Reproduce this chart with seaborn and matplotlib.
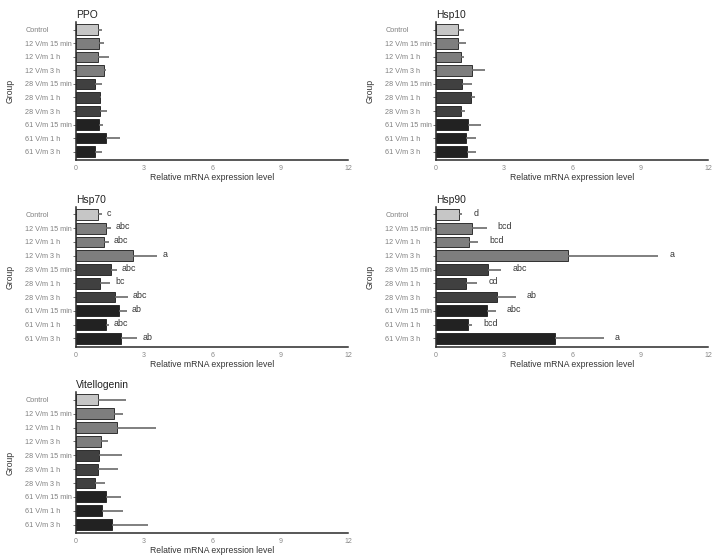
import numpy as np
import pandas as pd
import matplotlib
matplotlib.use("Agg")
import matplotlib.pyplot as plt
import seaborn as sns

# ================= DATA =================
groups = ["Control", "12 V/m 15 min", "12 V/m 1 h", "12 V/m 3 h",
          "28 V/m 15 min", "28 V/m 1 h", "28 V/m 3 h",
          "61 V/m 15 min", "61 V/m 1 h", "61 V/m 3 h"]

ppo_mean = [0.97, 1.00, 0.98, 1.22, 0.82, 1.04, 1.07, 1.00, 1.31, 0.82]
ppo_err = [0.18, 0.22, 0.47, 0.12, 0.34, 0.07, 0.31, 0.19, 0.65, 0.31]

hsp10_mean = [0.96, 0.99, 1.09, 1.58, 1.15, 1.56, 1.12, 1.43, 1.34, 1.35]
hsp10_err = [0.29, 0.32, 0.15, 0.59, 0.43, 0.15, 0.16, 0.56, 0.43, 0.40]

hsp70_mean = [0.97, 1.34, 1.24, 2.53, 1.56, 1.04, 1.72, 1.88, 1.32, 1.99]
hsp70_err = [0.18, 0.19, 0.22, 1.06, 0.25, 0.46, 0.57, 0.37, 0.12, 0.72]
hsp70_sig = ["c", "abc", "abc", "a", "abc", "bc", "abc", "ab", "abc", "ab"]

hsp90_mean = [1.00, 1.57, 1.45, 5.80, 2.29, 1.34, 2.70, 2.23, 1.41, 5.25]
hsp90_err = [0.16, 0.66, 0.41, 4.00, 0.59, 0.47, 0.82, 0.40, 0.18, 2.14]
hsp90_sig = ["d", "bcd", "bcd", "a", "abc", "cd", "ab", "abc", "bcd", "a"]

vtg_mean = [0.97, 1.69, 1.81, 1.12, 1.03, 0.97, 0.82, 1.34, 1.16, 1.60]
vtg_err = [1.24, 0.38, 1.72, 0.31, 1.01, 0.90, 0.44, 0.65, 0.93, 1.56]

xticks = [0, 3, 6, 9, 12]

# ================= STYLE =================
sns.set_theme(style="white")
plt.rcParams["font.family"] = ["Liberation Sans", "DejaVu Sans"]

palette = {g: c for g, c in zip(groups, ["#c6c6c6"] + ["#7e7e7e"] * 3 +
                                 ["#404040"] * 3 + ["#222222"] * 3)}

fig = plt.figure(figsize=(7.2, 5.56), dpi=100)

# [left, bottom, width, height]
positions = {
    "PPO": [0.1056, 0.712, 0.378, 0.248],
    "Hsp10": [0.6056, 0.712, 0.378, 0.248],
    "Hsp70": [0.1056, 0.376, 0.378, 0.252],
    "Hsp90": [0.6056, 0.376, 0.378, 0.252],
    "Vitellogenin": [0.1056, 0.041, 0.378, 0.2536],
}

panels = [
    ("PPO", ppo_mean, ppo_err, None, 0),
    ("Hsp10", hsp10_mean, hsp10_err, None, 0),
    ("Hsp70", hsp70_mean, hsp70_err, hsp70_sig, 3.5),
    ("Hsp90", hsp90_mean, hsp90_err, hsp90_sig, 8),
    ("Vitellogenin", vtg_mean, vtg_err, None, 0),
]

for title, mean, err, sig, offset in panels:
    ax = fig.add_axes(positions[title])
    df = pd.DataFrame({"group": groups, "value": mean, "err": err})

    sns.barplot(data=df, y="group", x="value", hue="group", palette=palette,
                legend=False, errorbar=None, orient="h", width=0.78,
                edgecolor="#1a1a1a", linewidth=0.6, ax=ax)

    ypos = np.arange(len(groups))
    ax.errorbar(df["value"], ypos, xerr=[np.zeros(len(groups)), df["err"]],
                fmt="none", ecolor="#6a6a6a", elinewidth=1.2, capsize=0)

    if sig is not None:
        for y, (m, e, s) in enumerate(zip(mean, err, sig)):
            ax.annotate(s, xy=(m + e, y), xytext=(offset, 1), textcoords="offset points",
                        ha="left", va="center", fontsize=6.4, color="#333333")

    ax.set_xlim(0, 12)
    ax.set_ylim(9.62, -0.55)
    ax.set_xticks(xticks)
    ax.set_xticklabels([str(t) for t in xticks])

    sns.despine(ax=ax)
    for side in ["left", "bottom"]:
        ax.spines[side].set_color("#2a2a2a")
        ax.spines[side].set_linewidth(1.1)

    ax.tick_params(axis="x", length=2, width=0.6, color="#777777", labelsize=5,
                   labelcolor="#888888", pad=1.5)
    ax.tick_params(axis="y", length=2, width=0.6, color="#555555", labelsize=5.2,
                   labelcolor="#808080", pad=34.5, left=True)
    for lab in ax.get_yticklabels():
        lab.set_horizontalalignment("left")

    ax.set_xlabel("Relative mRNA expression level", fontsize=6.2, color="#333333",
                  labelpad=1)
    ax.set_ylabel("Group", fontsize=6.2, color="#333333")
    ax.yaxis.set_label_coords(-0.225, 0.5)
    ax.set_title(title, loc="left", fontsize=7.4, color="#222222", pad=3)

fig.savefig("out.png", dpi=100)
